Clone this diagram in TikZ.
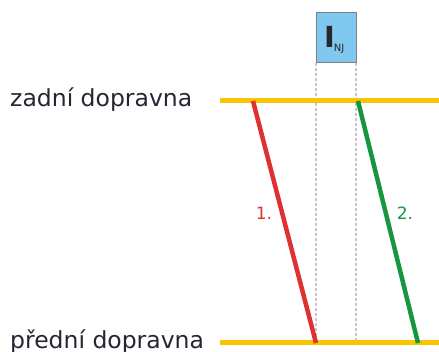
\documentclass[tikz,border=0pt]{standalone}
\usepackage{fontspec}
\setmainfont{DejaVu Sans}
\definecolor{yel}{HTML}{F9C400}
\definecolor{redl}{HTML}{E03131}
\definecolor{grnl}{HTML}{16963F}
\definecolor{boxb}{HTML}{80C8F0}
\definecolor{txt}{HTML}{262633}
\begin{document}
\begin{tikzpicture}[x=1pt,y=-1pt,
  rail/.style={yel,line width=5pt},
  track/.style={line width=4.5pt},
  guide/.style={gray!45,dash pattern=on 3pt off 2pt,line width=2pt},
  lbl/.style={text=txt,font=\fontsize{23.5}{26}\selectfont,anchor=base west,inner sep=0pt},
  num/.style={font=\fontsize{17}{17}\selectfont,inner sep=0pt}]
\useasboundingbox (0,0) rectangle (439,352);
% coordinates
\coordinate (t1) at (220,101);
\coordinate (t2) at (439,101);
\coordinate (b1) at (220,343);
\coordinate (b2) at (439,343);
\coordinate (rA) at (253,101);
\coordinate (rB) at (316,343);
\coordinate (gA) at (358,101);
\coordinate (gB) at (418,343);
\node[draw=gray,line width=1pt,fill=boxb,minimum width=40pt,minimum height=50pt,inner sep=0pt] (box) at (336,38) {};
\coordinate (d1t) at (316,63);
\coordinate (d1b) at (316,343);
\coordinate (d2t) at (356,63);
\coordinate (d2b) at (356,343);
\draw[guide] (d1t) -- (d1b);
\draw[guide] (d2t) -- (d2b);
\node[inner sep=0pt,text=black!85,anchor=base west] (ilab) at (324,48) {\fontsize{29}{29}\selectfont\bfseries I\hspace{-1pt}\raisebox{-4pt}{\fontsize{10}{10}\selectfont\mdseries NJ}};
\draw[rail] (t1) -- (t2);
\draw[rail] (b1) -- (b2);
\draw[track,redl] (rA) -- (rB);
\draw[track,grnl] (gA) -- (gB);
\node[lbl] (zad) at (10,107) {zadní dopravna};
\node[lbl] (pred) at (10,349) {přední dopravna};
\node[num,text=redl] (n1) at (264,213) {1.};
\node[num,text=grnl] (n2) at (405,213) {2.};
\end{tikzpicture}
\end{document}
